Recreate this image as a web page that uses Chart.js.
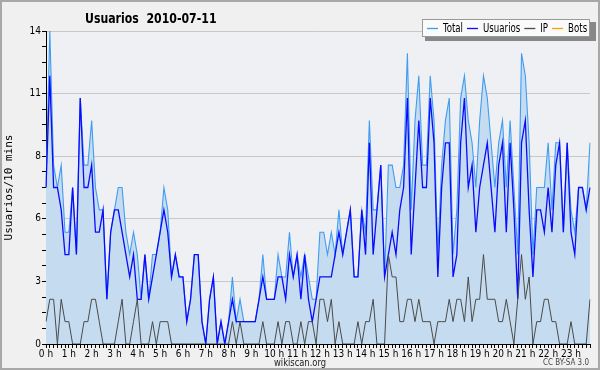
<!DOCTYPE html>
<html>
<head>
<meta charset="utf-8">
<script src="https://cdn.jsdelivr.net/npm/chart.js@4.4.0/dist/chart.umd.min.js"></script>
<style>
  html, body { margin: 0; padding: 0; background: #f0f0f0; }
</style>
</head>
<body>
<canvas id="chart" width="600" height="370"></canvas>
<script>
const FONT = "'DejaVu Sans Condensed', 'DejaVu Sans', sans-serif";

const titulo = "Usuarios  2010-07-11";
const tituloEjeY = "Usuarios/10 mins";
const pie = "wikiscan.org";
const licencia = "CC BY-SA 3.0";

// 144 intervalos de 10 minutos
const total = [
  7,14,8,7,8,5,5,7,4,11,8,8,10,7,6,6,2,5,6,7,7,5,4,5,
  4,2,4,2,4,4,5,7,6,3,4,3,3,1,2,4,4,1,0,2,3,0,1,0,
  1,3,1,2,1,1,1,1,2,4,2,2,2,4,3,3,5,3,4,3,4,3,2,2,
  5,5,4,5,4,6,4,5,6,3,3,6,5,10,6,6,8,3,8,8,7,7,8,13,
  6,10,12,8,8,12,10,4,8,10,11,4,6,11,12,10,9,7,10,12,11,9,7,9,
  10,7,10,7,4,13,12,9,4,7,7,7,9,6,9,9,5,9,6,5,7,7,6,9
];
const usuarios = [
  7,12,7,7,6,4,4,7,4,11,7,7,8,5,5,6,2,5,6,6,5,4,3,4,
  2,2,4,2,3,4,5,6,5,3,4,3,3,1,2,4,4,1,0,2,3,0,1,0,
  1,2,1,1,1,1,1,1,2,3,2,2,2,3,3,2,4,3,4,2,4,2,1,2,
  3,3,3,3,4,5,4,5,6,3,3,6,4,9,4,6,8,3,4,5,4,6,7,11,
  4,7,10,7,7,11,9,3,7,9,9,3,4,9,11,7,8,5,7,8,9,7,5,8,
  9,5,9,6,2,9,10,6,3,6,6,5,7,5,8,9,5,9,5,4,7,7,6,7
];
const ip = [
  1,2,2,0,2,1,1,0,0,0,1,1,2,2,1,0,0,0,0,1,2,0,0,1,
  2,0,0,0,1,0,1,1,1,0,0,0,0,0,0,0,0,0,0,0,0,0,0,0,
  0,1,0,1,0,0,0,0,0,1,0,0,0,1,0,1,1,0,0,1,0,1,1,0,
  2,2,1,2,0,1,0,0,0,0,1,0,1,1,2,0,0,0,4,3,3,1,1,2,
  2,1,2,1,1,1,0,1,1,1,2,1,2,2,1,3,1,2,2,4,2,2,2,1,
  1,2,1,0,2,4,2,3,0,1,1,2,2,1,1,0,0,0,1,0,0,0,0,2
];
const bots = [];

const horas = [];
for (let i = 0; i < total.length; i++) {
  let h = Math.floor(i / 6), m = (i % 6) * 10;
  horas.push((h < 10 ? "0" + h : h) + ":" + (m < 10 ? "0" + m : m));
}

// texto estrecho (la fuente condensada no siempre esta instalada)
const textoEstrecho = (ctx, text, x, y, k) => {
  let w = ctx.measureText(text).width * k;
  ctx.fillText(text, x, y, w);
  return w;
};

const fondo = {
  id: "fondo",
  beforeDraw(chart) {
    const { ctx, chartArea: a } = chart;
    ctx.save();
    ctx.fillStyle = "#f0f0f0";
    ctx.fillRect(0, 0, chart.width, chart.height);
    ctx.fillStyle = "#eef0f3";
    ctx.fillRect(a.left, a.top, a.right - a.left, a.bottom - a.top);
    ctx.restore();
  },
  afterDraw(chart) {
    const ctx = chart.ctx;
    ctx.save();
    // titulo
    ctx.fillStyle = "#000";
    ctx.font = "bold 14px " + FONT;
    ctx.textBaseline = "alphabetic";
    ctx.textAlign = "left";
    textoEstrecho(ctx, titulo, 85, 23, 0.87);

    // leyenda
    ctx.fillStyle = "#888";
    ctx.fillRect(425, 22, 171, 19);
    ctx.fillStyle = "#fafafa";
    ctx.fillRect(422, 19, 168, 18);
    ctx.strokeStyle = "#999";
    ctx.lineWidth = 1;
    ctx.strokeRect(422.5, 19.5, 167, 17);
    ctx.font = "12px " + FONT;
    ctx.textBaseline = "middle";
    let x = 427;
    chart.data.datasets.forEach(ds => {
      ctx.strokeStyle = ds.borderColor;
      ctx.lineWidth = 1.3;
      ctx.beginPath();
      ctx.moveTo(x, 28.5);
      ctx.lineTo(x + 11, 28.5);
      ctx.stroke();
      ctx.fillStyle = "#000";
      let w = textoEstrecho(ctx, ds.label, x + 16, 28.5, 0.8);
      x += 16 + w + 4;
    });

    // pie
    ctx.textBaseline = "alphabetic";
    ctx.textAlign = "center";
    ctx.font = "11px " + FONT;
    ctx.fillStyle = "#222";
    ctx.fillText(pie, 300, 366, 52);
    ctx.textAlign = "right";
    ctx.font = "8px " + FONT;
    ctx.fillStyle = "#444";
    ctx.fillText(licencia, 589, 365, 46);

    // borde
    ctx.strokeStyle = "#a8a8a8";
    ctx.lineWidth = 2;
    ctx.strokeRect(1, 1, chart.width - 2, chart.height - 2);
    ctx.restore();
  }
};

new Chart(document.getElementById("chart").getContext("2d"), {
  type: "line",
  data: {
    labels: horas,
    datasets: [
      { label: "Total", data: total, borderColor: "#3f9cf2", backgroundColor: "#c5dcf0",
        fill: "origin", borderWidth: 1.1, order: 3 },
      { label: "Usuarios", data: usuarios, borderColor: "#0a0aff", borderWidth: 1.3, fill: false, order: 2 },
      { label: "IP", data: ip, borderColor: "#4a4a4a", borderWidth: 1, fill: false, order: 1 },
      { label: "Bots", data: bots, borderColor: "#ffa000", borderWidth: 1, fill: false, order: 0 }
    ]
  },
  options: {
    responsive: false,
    animation: false,
    devicePixelRatio: 1,
    layout: { padding: { top: 31, right: 10, left: 0, bottom: 0 } },
    elements: { point: { radius: 0 }, line: { tension: 0 } },
    plugins: { legend: { display: false }, title: { display: false }, tooltip: { enabled: false } },
    scales: {
      x: {
        offset: false,
        border: { color: "#000" },
        grid: { drawOnChartArea: false, tickLength: 4, color: "#000" },
        ticks: {
          autoSkip: false, maxRotation: 0, minRotation: 0, padding: 0,
          color: "#000", font: { family: FONT, size: 10 },
          callback: (v, i) => (i % 6 === 0 ? (i / 6) + " h" : "")
        },
        afterFit: s => { s.height = 26; }
      },
      y: {
        min: 0, max: 14,
        border: { color: "#000" },
        grid: {
          color: c => (c.index % 4 === 0 ? "#c8c8c8" : "rgba(0,0,0,0)"),
          tickColor: "#000", tickLength: 4
        },
        ticks: {
          stepSize: 0.7, autoSkip: false, padding: 1,
          color: "#000", font: { family: FONT, size: 10 },
          callback: (v, i) => (i % 4 === 0 ? Math.round(v) : "")
        },
        title: {
          display: true, text: tituloEjeY, color: "#000", padding: { top: 3, bottom: 0 },
          font: { family: "'DejaVu Sans Mono', monospace", size: 11 }
        },
        afterFit: s => { s.width = 46; }
      }
    }
  },
  plugins: [fondo]
});
</script>
</body>
</html>
